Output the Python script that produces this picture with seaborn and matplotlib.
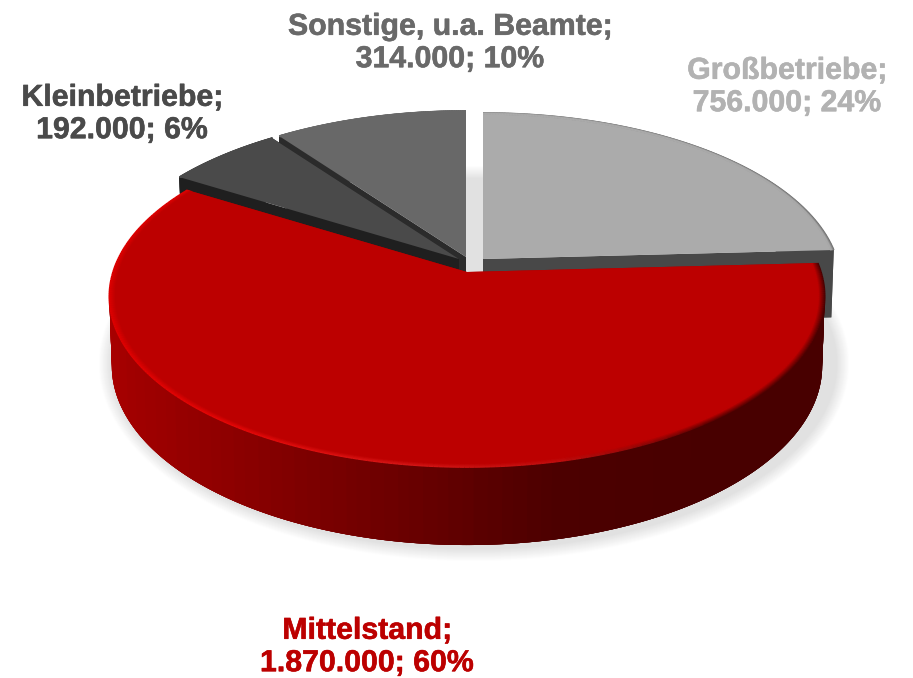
import numpy as np
import matplotlib
matplotlib.use('Agg')
import matplotlib.pyplot as plt
from matplotlib.collections import LineCollection
from matplotlib.colors import to_rgb
from matplotlib.patches import Ellipse
from matplotlib.patheffects import withStroke
from matplotlib.transforms import Transform
import seaborn as sns

# chart data
names = ['Großbetriebe', 'Mittelstand', 'Kleinbetriebe', 'Sonstige, u.a. Beamte']
employees = [756000, 1870000, 192000, 314000]
percents = [24, 60, 6, 10]

# look of each slice
face_colors = ['#ababab', '#bc0000', '#4a4a4a', '#686868']
side_colors = ['#484848', '#a80000', '#1f1f1f', '#2b2b2b']
text_colors = ['#b2b2b2', '#bc0000', '#4a4a4a', '#696969']
apex = [(483, 259), (467, 272), (459, 259), (466, 257)]
label_xy = [(787, 87), (367, 647), (122, 114), (450, 43)]

# perspective of the pie disc, in pixels
RX, RY, TILT = 354, 167, 0.1436
DEPTH = 68

sns.set_theme(style='white')
plt.rcParams['font.family'] = ['Liberation Sans', 'DejaVu Sans']


class Perspective(Transform):
    input_dims = 2
    output_dims = 2
    is_separable = False
    has_inverse = False

    def __init__(self, cx, cy):
        super().__init__()
        self.cx = cx
        self.cy = cy

    def transform_non_affine(self, values):
        values = np.asarray(values, dtype=float)
        w = 1 + TILT * values[:, 1]
        return np.column_stack([self.cx + RX * values[:, 0] / w,
                                self.cy - RY * values[:, 1] / w])


def project(u, v, cx, cy, down=False):
    w = 1 + TILT * v
    x = RX * u / w
    y = -RY * v / w
    if down:
        # lower rim sits a bit further away
        return cx + x * 0.993, cy + y * 0.993 + DEPTH / w
    return cx + x, cy + y


def draw_side(wedge, cx, cy, colors, zorder):
    # radial faces first, outer rim on top of them
    t = np.radians([wedge.theta1, wedge.theta2])
    for a in t:
        u, v = np.array([0, np.cos(a)]), np.array([0, np.sin(a)])
        xt, yt = project(u, v, cx, cy)
        xb, yb = project(u, v, cx, cy, down=True)
        ax.fill(np.r_[xt, xb[::-1]], np.r_[yt, yb[::-1]], color=colors[0], lw=0, zorder=zorder)
    steps = int(abs(wedge.theta2 - wedge.theta1)) * 2 + 2
    a = np.linspace(t[0], t[1], steps)
    u, v = np.cos(a), np.sin(a)
    xt, yt = project(u, v, cx, cy)
    xb, yb = project(u, v, cx, cy, down=True)
    # every strip runs under the next ones so no seams show
    for i in range(steps - 1):
        j = min(i + 4, steps - 1)
        c = colors[int((u[i] + 1) / 2 * (len(colors) - 1))]
        ax.fill(np.r_[xt[i:j + 1], xb[i:j + 1][::-1]], np.r_[yt[i:j + 1], yb[i:j + 1][::-1]],
                color=c, lw=0, zorder=zorder)


def draw_bevel(wedge, cx, cy, face, rim, width, zorder):
    # soft lit edge just inside the outer rim
    a = np.radians(np.linspace(wedge.theta1, wedge.theta2, 300))
    base = np.array(to_rgb(face))
    for s in np.linspace(0, 1, 8):
        r = 1 - width * s
        x, y = project(r * np.cos(a), r * np.sin(a), cx, cy)
        pts = np.column_stack([x, y])
        segs = np.stack([pts[:-1], pts[1:]], axis=1)
        idx = ((np.cos(a[:-1]) + 1) / 2 * (len(rim) - 1)).astype(int)
        cols = [tuple(np.array(rim[i]) * (1 - s) + base * s) for i in idx]
        ax.add_collection(LineCollection(segs, colors=cols, linewidths=1.2, zorder=zorder), autolim=False)


fig = plt.figure(figsize=(9.13, 6.78), dpi=100)
ax = fig.add_axes([0, 0, 1, 1])

wedges, _ = ax.pie(employees, colors=face_colors, startangle=90, counterclock=False)
ax.set_aspect('auto')
ax.set_xlim(0, 913)
ax.set_ylim(678, 0)
ax.axis('off')

# blurred ground shadow
shadow = sns.blend_palette(['#ffffff', '#e1e1e1'], 14)
for i, c in enumerate(shadow):
    ax.add_patch(Ellipse((474, 363.5), 752 - 2 * i, 397 - 2 * i, color=c, lw=0, zorder=1))

red_side = sns.blend_palette(['#a80000', '#8c0000', '#6c0000', '#4c0000', '#480000', '#480000'], 64)
rims = [sns.blend_palette(['#8a8a8a', '#8a8a8a', '#6a6a6a'], 32),
        sns.blend_palette(['#e00000', '#e80808', '#d81818', '#c01010', '#5a0000', '#480000'], 64),
        sns.blend_palette(['#555555', '#555555'], 8),
        sns.blend_palette(['#7a7a7a', '#7a7a7a'], 8)]
bevel = [0.008, 0.018, 0.004, 0.004]

# painter order: back slices first, the red one last
order = [0, 3, 2, 1]
for k, n in enumerate(order):
    w = wedges[n]
    cx, cy = apex[n]
    z = 2 + k * 3
    draw_side(w, cx, cy, red_side if n == 1 else [side_colors[n]], z)
    w.set_transform(Perspective(cx, cy) + ax.transData)
    w.set_zorder(z + 1)
    w.set_linewidth(0)
    draw_bevel(w, cx, cy, face_colors[n], rims[n], bevel[n], z + 2)

for n, name in enumerate(names):
    amount = f'{employees[n]:,}'.replace(',', '.')
    ax.text(label_xy[n][0], label_xy[n][1], f'{name};\n{amount}; {percents[n]}%', color=text_colors[n],
            fontsize=21.8, fontweight='bold', ha='center', va='center', linespacing=1.2, zorder=30,
            path_effects=[withStroke(linewidth=0.4, foreground=text_colors[n])])

fig.savefig('out.png', dpi=100)
